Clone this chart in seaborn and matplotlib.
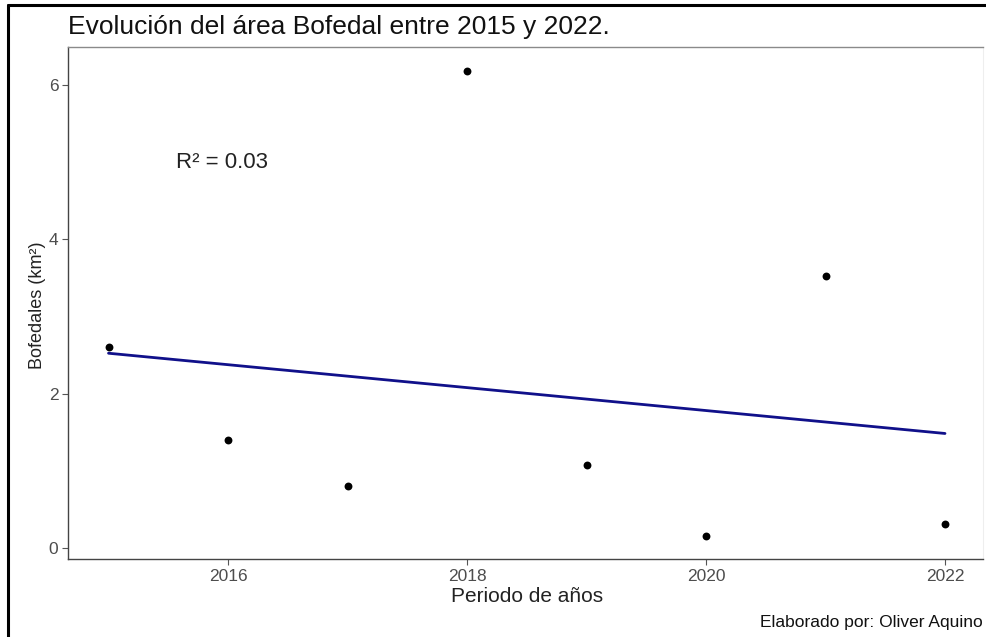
import matplotlib
matplotlib.use("Agg")
import matplotlib.pyplot as plt
from matplotlib.lines import Line2D
import numpy as np
import pandas as pd
import seaborn as sns

# Bofedal wetland area per year (km²)
years = [2015, 2016, 2017, 2018, 2019, 2020, 2021, 2022]
area_km2 = [2.60, 1.40, 0.80, 6.18, 1.075, 0.155, 3.52, 0.31]
x_ticks = [2016, 2018, 2020, 2022]
y_ticks = [0, 2, 4, 6]

df = pd.DataFrame({"anio": years, "area": area_km2})

# R² of the linear fit
slope, intercept = np.polyfit(df["anio"], df["area"], 1)
pred = slope * df["anio"] + intercept
r2 = 1 - ((df["area"] - pred) ** 2).sum() / ((df["area"] - df["area"].mean()) ** 2).sum()

sns.set_theme(style="white")
plt.rcParams["font.family"] = ["Liberation Sans", "DejaVu Sans"]

W, H = 987, 637
fig = plt.figure(figsize=(W / 100, H / 100), dpi=100)
ax = fig.add_axes([68 / W, 1 - 559 / H, (983 - 68) / W, (559 - 47) / H])

sns.regplot(data=df, x="anio", y="area", ci=None, ax=ax,
            scatter_kws=dict(s=32, color="black", alpha=1.0, linewidths=0, zorder=3),
            line_kws=dict(color="#10108a", lw=2.0, zorder=2))

ax.set_xlim(2014.661, 2022.318)
ax.set_ylim(-0.14, 6.49)
ax.set_xticks(x_ticks)
ax.set_yticks(y_ticks)
ax.tick_params(axis="both", which="both", direction="out", length=4, width=0.8,
               color="#555555", labelcolor="#4d4d4d", labelsize=12.5,
               bottom=True, left=True, pad=3)

for side in ("left", "bottom"):
    ax.spines[side].set_color("#444444")
    ax.spines[side].set_linewidth(1.0)
ax.spines["top"].set_color("#8a8a8a")
ax.spines["top"].set_linewidth(1.0)
ax.spines["right"].set_color("#eeeeee")
ax.spines["right"].set_linewidth(0.8)

ax.set_xlabel("Periodo de años", fontsize=15, color="#222222")
ax.set_ylabel("Bofedales (km²)", fontsize=13, color="#222222")
ax.xaxis.set_label_coords((527 - 68) / (983 - 68), -(597 - 559) / (559 - 47))
ax.yaxis.set_label_coords(-(68 - 38) / (983 - 68), (559 - 305) / (559 - 47))
ax.xaxis.label.set_va("center")
ax.yaxis.label.set_va("center")

ax.text(2015.95, 5.0, f"R² = {r2:.2f}", ha="center", va="center",
        fontsize=16, color="#222222")

fig.text(68 / W, 1 - 27 / H, "Evolución del área Bofedal entre 2015 y 2022.",
         ha="left", va="center", fontsize=19, color="#111111")
fig.text(983 / W, 1 - 623 / H, "Elaborado por: Oliver Aquino",
         ha="right", va="center", fontsize=12.5, color="#111111")

# outer frame edges on the top and left
fig.add_artist(Line2D([8 / W, 1.0], [1 - 5 / H, 1 - 5 / H], color="black", lw=2.2,
                      transform=fig.transFigure))
fig.add_artist(Line2D([8 / W, 8 / W], [0.0, 1 - 5 / H], color="black", lw=2.2,
                      transform=fig.transFigure))

fig.savefig("out.png", dpi=100)
